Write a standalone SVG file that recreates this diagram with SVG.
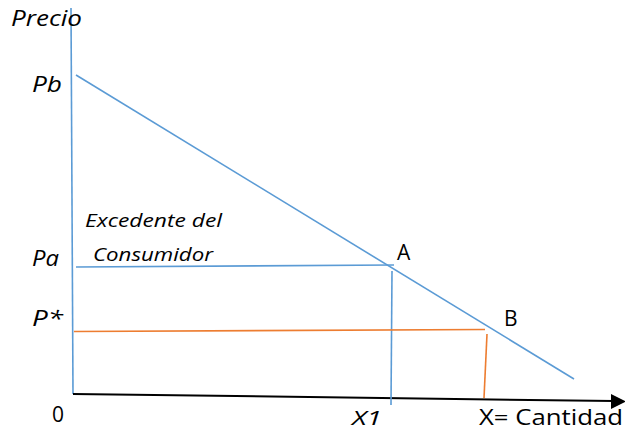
<svg xmlns="http://www.w3.org/2000/svg" width="625" height="430" viewBox="0 0 625 430">
<style>
.t{font-family:"Open Sans","DejaVu Sans",sans-serif;fill:#000;}
.i{font-style:italic;}
.b{stroke:#5B9BD5;stroke-width:1.6;fill:none;}
.o{stroke:#ED7D31;stroke-width:1.6;fill:none;}
</style>
<rect width="625" height="430" fill="#fff"/>
<g id="connectors">
<line id="y-axis" class="b" x1="71" y1="8" x2="73" y2="394"/>
<line id="x-axis" x1="73" y1="394" x2="614" y2="401" stroke="#000" stroke-width="2"/>
<polygon points="626,401.5 611,394 611,409" fill="#000"/>
<line id="demand" class="b" x1="76" y1="75" x2="574" y2="379"/>
<line id="pa-line" class="b" x1="76" y1="267" x2="394" y2="265"/>
<line id="x1-line" class="b" x1="392" y1="271" x2="391" y2="405"/>
<line id="pstar-line" class="o" x1="74" y1="331.5" x2="485" y2="329.5"/>
<line id="x-line" class="o" x1="487" y1="334" x2="484" y2="398"/>
</g>
<g id="labels">
<text class="t i" x="11" y="26" font-size="22" textLength="71" lengthAdjust="spacingAndGlyphs">Precio</text>
<text class="t i" x="32" y="92" font-size="22" textLength="30" lengthAdjust="spacingAndGlyphs">Pb</text>
<text class="t i" x="32" y="266" font-size="21" textLength="27" lengthAdjust="spacingAndGlyphs">Pa</text>
<text class="t i" x="32" y="326" font-size="22" textLength="31" lengthAdjust="spacingAndGlyphs">P*</text>
<text class="t i" x="85" y="227" font-size="18" textLength="137" lengthAdjust="spacingAndGlyphs">Excedente del</text>
<text class="t i" x="93" y="261" font-size="18" textLength="120" lengthAdjust="spacingAndGlyphs">Consumidor</text>
<text class="t" x="397" y="260" font-size="21">A</text>
<text class="t" x="504" y="326" font-size="21">B</text>
<text class="t" x="52" y="422" font-size="21">0</text>
<text class="t i" x="352" y="425" font-size="20" textLength="30" lengthAdjust="spacingAndGlyphs">X1</text>
<text class="t" x="479" y="425" font-size="21" textLength="144" lengthAdjust="spacingAndGlyphs">X= Cantidad</text>
</g>
</svg>
